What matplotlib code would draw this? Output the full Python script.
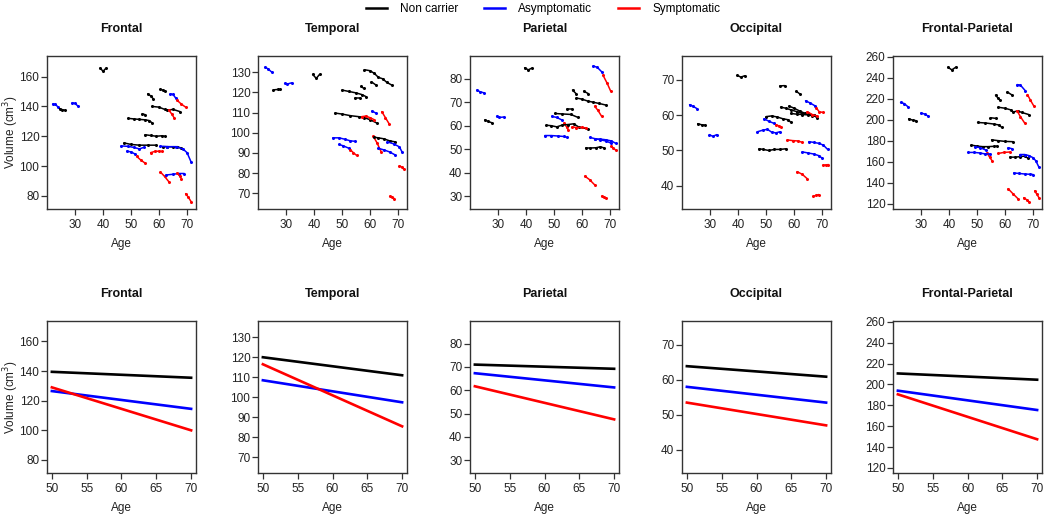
import matplotlib
matplotlib.use("Agg")
import matplotlib.pyplot as plt
from matplotlib.lines import Line2D

plt.rcParams['font.family'] = ['Liberation Sans', 'DejaVu Sans']

regions = ["Frontal", "Temporal", "Parietal", "Occipital", "Frontal-Parietal"]
group_names = ["Non carrier", "Asymptomatic", "Symptomatic"]
group_colors = {"N": "#000000", "A": "#0000ff", "S": "#ff0000"}
group_codes = ["N", "A", "S"]

# Individual trajectories: (group, ages, volumes)
frontal_traj = [
    ("A", [22, 23, 24], [141.6, 141.3, 139.5]),
    ("N", [24.5, 25.5, 26.5], [138.5, 137.8, 137.4]),
    ("A", [29, 30, 31], [142.5, 142, 140.3]),
    ("N", [39, 40, 41], [165.8, 163.5, 165.5]),
    ("N", [56, 57, 58], [148.5, 147, 145]),
    ("N", [60.5, 61.5, 62.3], [151.5, 150.8, 150]),
    ("N", [57.5, 60, 62, 63, 65, 67.5], [140, 139.5, 138, 137.5, 138, 136.5]),
    ("A", [64, 65, 66], [148.5, 148, 145.5]),
    ("S", [66.5, 68, 69.5], [144, 141.5, 139.5]),
    ("S", [63.5, 64.5, 65.5], [137.5, 135, 132]),
    ("N", [49, 51, 53, 55, 56.5, 57.5], [132, 131.6, 131.3, 131, 130.5, 129]),
    ("N", [54, 55], [135, 134.5]),
    ("N", [55, 57, 59, 61, 62], [121, 120.5, 120, 120.3, 120]),
    ("N", [47.5, 50, 53, 56, 59], [115.5, 114.5, 114, 114, 114]),
    ("A", [46.5, 49, 51, 53, 54.5], [113.5, 113.2, 112.5, 111.5, 112.5]),
    ("A", [48.5, 50, 51.5], [110, 109.5, 108]),
    ("S", [52, 53.5, 55], [106.5, 104, 102]),
    ("S", [57, 58.5, 60, 61], [109, 109.8, 110, 109.8]),
    ("N", [61.5, 63, 65, 66.5, 68], [113, 113, 112.8, 113, 112]),
    ("A", [60.5, 63, 66, 68.5, 70, 71.5], [113.3, 113, 113, 111.5, 109, 102.5]),
    ("S", [60.5, 62, 63.5], [96, 93, 89.5]),
    ("A", [62.5, 65, 67, 69], [94, 94.5, 95, 95]),
    ("S", [66.5, 67.5, 68], [95.5, 93, 91.5]),
    ("S", [69.5, 70.5, 71.5], [81.5, 79, 76]),
]

temporal_traj = [
    ("A", [22.5, 23.5, 25], [132.5, 131.8, 130]),
    ("N", [25.5, 27, 28], [121.3, 121.5, 121.5]),
    ("A", [29.5, 30.5, 32], [124.5, 124.2, 124.8]),
    ("N", [39.5, 40.8, 42], [129, 127, 129]),
    ("N", [58, 60, 61.5, 63, 64.5, 66, 68], [131.3, 130.8, 129.5, 127.5, 126.8, 125, 123.5]),
    ("N", [60.5, 62], [125.3, 123.8]),
    ("N", [56.8, 57.8], [123, 122]),
    ("N", [50, 52.5, 55, 57, 58.5], [121.2, 120.5, 119.8, 119, 118]),
    ("N", [54.7, 56.3], [117.4, 117.4]),
    ("N", [47.5, 50, 53, 56, 58, 60, 62.5], [109.8, 109.3, 108.5, 108, 107.5, 106.5, 104.8]),
    ("S", [57, 58.5, 60, 61.5], [108, 108.3, 107.5, 106.5]),
    ("A", [60.7, 62.2], [110.8, 109.7]),
    ("S", [64.2, 65.5, 66.8], [110.5, 107.5, 104.5]),
    ("A", [46.7, 49, 51, 53, 54.5], [97.5, 97.5, 96.8, 96, 95.8]),
    ("A", [49, 50.5, 52.5], [94.2, 93.5, 92.3]),
    ("S", [53, 54, 55.2], [91.5, 90.2, 88.8]),
    ("S", [61.2, 62.5, 64], [98.2, 95, 90.5]),
    ("N", [61.5, 63, 65, 67, 69], [97.8, 97.5, 97, 96, 95.5]),
    ("A", [66.2, 68.5, 70.5, 71.5], [95.5, 94.5, 93, 90.3]),
    ("A", [63, 65, 67, 69], [92.3, 91.5, 90.5, 89]),
    ("S", [70.5, 71.5, 72], [83.7, 82.8, 82]),
    ("S", [67, 68, 68.7], [68.5, 68, 67.3]),
]

parietal_traj = [
    ("A", [22.5, 23.5, 25], [75.2, 74.5, 74]),
    ("N", [25.3, 26.5, 27.7], [62.5, 61.8, 61.3]),
    ("A", [29.5, 30.5, 32], [64, 63.5, 63.7]),
    ("N", [39.5, 40.8, 42], [84.7, 83.8, 84.5]),
    ("A", [64, 65.5, 67], [85.5, 84.8, 83]),
    ("S", [67.5, 69, 70.2], [81.5, 78, 74.8]),
    ("N", [56.6, 58], [75.2, 73.5]),
    ("N", [60.6, 62.2], [74.7, 73.7]),
    ("N", [58, 60, 62, 64, 66, 68.5], [71.8, 71.3, 70.5, 70, 69.5, 68.8]),
    ("S", [64.5, 65.7, 67], [68.3, 66.5, 64]),
    ("N", [54.8, 56.5], [67, 67]),
    ("N", [50.3, 53, 56, 58.6], [65.2, 65, 64.8, 63.5]),
    ("A", [49.2, 51, 52.7], [64, 63.5, 62.5]),
    ("S", [53.5, 54.5, 55], [61, 59.5, 58.2]),
    ("N", [47.3, 49, 51, 53, 55, 57, 59, 62], [60.2, 60, 59.5, 60.3, 60.5, 60.8, 59.3, 58.7]),
    ("S", [56.5, 58, 60, 61.5], [59.5, 59.2, 59.3, 59]),
    ("A", [46.7, 49, 51.5, 53.5, 54.7], [55.8, 55.8, 55.6, 55.4, 55]),
    ("A", [62.8, 64.5, 66.5, 68.5, 70.5], [55, 54.5, 54, 53.5, 52.5]),
    ("A", [64.5, 66.5, 68.5, 70.5, 72], [54.3, 54.3, 54, 53.5, 52.5]),
    ("S", [70.5, 71.2, 72], [51.2, 50.5, 49.6]),
    ("N", [61.3, 63, 65, 66.5, 68], [50.5, 50.5, 50.6, 51, 50.5]),
    ("S", [61, 62.7, 64.5], [38.5, 37, 34.8]),
    ("S", [67, 67.8, 68.7], [30, 29.5, 29]),
]

occipital_traj = [
    ("A", [22.7, 24, 25.3], [63, 62.5, 61.9]),
    ("N", [25.6, 27, 28.2], [57.6, 57.3, 57.2]),
    ("A", [29.8, 31, 32.4], [54.5, 54, 54.5]),
    ("N", [39.8, 41, 42.4], [71.3, 70.8, 71.2]),
    ("N", [54.9, 56.6], [68.3, 68.4]),
    ("N", [60.8, 62.3], [66.8, 65.9]),
    ("A", [64.1, 65.7, 67.4], [64.1, 63.5, 62.7]),
    ("S", [68, 69, 70.2], [62, 61, 60.8]),
    ("N", [55.2, 57, 59, 61, 63, 65, 67, 68.2], [62.3, 62, 61.5, 61, 60.5, 60.5, 60, 59.3]),
    ("N", [58.2, 60, 62, 64, 66.5], [62.6, 62, 61.2, 60.5, 59.8]),
    ("N", [58.8, 61, 63, 65, 67], [60.5, 60.3, 60.2, 60.1, 60]),
    ("S", [64.7, 66.5, 68.2], [61, 60.2, 59.8]),
    ("N", [50, 52, 54, 56, 58, 58.8], [59.6, 59.8, 59.5, 59, 58.7, 58]),
    ("A", [49.3, 51, 52.8], [59, 58.3, 57.7]),
    ("S", [53.5, 54.5, 55.4], [57.3, 57, 56.6]),
    ("A", [46.9, 49, 50.5, 52, 53.5, 54.9], [55.3, 55.8, 56, 55.2, 55, 55.3]),
    ("S", [57.6, 59.5, 61.5, 62.9], [53, 52.8, 52.7, 52.3]),
    ("A", [65.3, 67, 69, 70.5, 72], [52.5, 52.3, 52, 51.5, 50.3]),
    ("A", [62.9, 65, 67, 69, 70], [49.6, 49.3, 49, 48.5, 47.8]),
    ("N", [47.5, 49, 51, 53, 55, 57.3], [50.5, 50.3, 50, 50.3, 50.3, 50.5]),
    ("S", [70.2, 71.3, 72.3], [45.8, 45.9, 46]),
    ("S", [61.1, 63, 64.7], [44, 43.2, 42]),
    ("S", [66.8, 68, 68.8], [37, 37.3, 37.5]),
]

fp_traj = [
    ("A", [22.7, 24, 25.3], [216.5, 215.5, 212.5]),
    ("N", [25.6, 27, 28.2], [201, 199.7, 199.2]),
    ("A", [30, 31.3, 32.5], [206.5, 205.5, 203.6]),
    ("N", [39.6, 41, 42.4], [250, 247.5, 250]),
    ("N", [56.6, 57.4, 58.2], [223.5, 221, 218.5]),
    ("N", [60.8, 62.5], [226.5, 223.6]),
    ("A", [64.3, 65.5, 67.3], [233.5, 233, 227.5]),
    ("S", [68, 69, 70.2], [224, 219, 213.5]),
    ("N", [57.6, 60, 62, 63, 64.5, 66, 68.5], [212, 211, 209.5, 207.5, 208.5, 207, 205]),
    ("S", [64.3, 65.5, 67], [208.5, 203, 197]),
    ("N", [54.8, 56.7], [202, 201.4]),
    ("N", [50.2, 53, 56, 58, 58.8], [197.5, 197, 196, 195, 192.8]),
    ("N", [55.2, 57.5, 60, 62.9], [181, 180.2, 179.5, 179.2]),
    ("N", [47.9, 50, 52, 54, 56, 57], [176, 175, 174.5, 174.5, 174.8, 175]),
    ("A", [49.3, 51.2, 53.1], [174.5, 173.5, 171.3]),
    ("S", [53.6, 54.5, 55.4], [168.5, 164.5, 161]),
    ("A", [46.9, 49, 51, 53, 54.8], [169, 169, 168.5, 167.5, 167.5]),
    ("S", [57.6, 59.5, 61.7], [168, 169, 169.4]),
    ("A", [61.1, 62.5], [173.5, 172.5]),
    ("N", [61.7, 63.5, 65.5, 67, 68.2], [164.5, 164.5, 165, 165.5, 163.5]),
    ("A", [65.3, 67, 68.5, 70, 71, 72], [167, 167, 166, 164, 161, 155.5]),
    ("A", [63.1, 65, 67, 69, 70], [149.5, 149, 148.5, 148.2, 148]),
    ("S", [61.1, 62.9, 64.7], [134.5, 129.5, 124.8]),
    ("S", [66.7, 67.7, 68.6], [126, 124, 122]),
    ("S", [70.6, 71.3, 72.1], [132.5, 129.5, 126]),
]

trajectories = [frontal_traj, temporal_traj, parietal_traj, occipital_traj, fp_traj]

# Fitted lines at age 50 and 70: [Non carrier, Asymptomatic, Symptomatic]
fit_ages = [50, 70]
fit_frontal = [[139.5, 135.5], [126.5, 114.5], [129.0, 100.0]]
fit_temporal = [[120.0, 111.0], [108.5, 97.5], [116.5, 85.5]]
fit_parietal = [[71.0, 69.2], [67.3, 61.2], [61.7, 47.5]]
fit_occipital = [[63.9, 60.9], [58.0, 53.5], [53.5, 47.0]]
fit_fp = [[210.5, 204.5], [194.0, 175.5], [190.5, 147.5]]
fits = [fit_frontal, fit_temporal, fit_parietal, fit_occipital, fit_fp]

ylims = [(71.2, 173.8), (62.2, 138.1), (24.5, 89.7), (33.4, 76.8), (115.2, 260.7)]
yticks = [list(range(80, 161, 20)), list(range(70, 131, 10)), list(range(30, 81, 10)),
          list(range(40, 71, 10)), list(range(120, 261, 20))]
top_xticks = [30, 40, 50, 60, 70]
bot_xticks = [50, 55, 60, 65, 70]

W, H = 1050, 521
fig = plt.figure(figsize=(W / 100, H / 100), dpi=100)

lefts = [47, 258, 470, 682, 893]
aw = 149
top_row = (56, 209)
bot_row = (321, 473)

axis_col = "#333333"

def style(ax, title):
    for sp in ax.spines.values():
        sp.set_color(axis_col)
        sp.set_linewidth(1.0)
    ax.tick_params(axis='both', direction='out', length=4, width=0.9, color=axis_col,
                   labelsize=8.5, labelcolor="#222222")
    ax.tick_params(axis='y', pad=1.5)
    ax.tick_params(axis='x', pad=3.5)
    ax.annotate(title, xy=(0.5, 1.0), xycoords='axes fraction', xytext=(0, 19.5),
                textcoords='offset points', ha='center', va='center',
                fontsize=9, fontweight='bold', color="#111111")
    ax.set_xlabel("Age", fontsize=8.5, color="#222222", labelpad=5)

def add_ylabel(ax):
    ax.annotate("Volume (cm$^3$)", xy=(0, 0.5), xycoords='axes fraction',
                xytext=(-(47 - 11) * 0.72, 0), textcoords='offset points',
                rotation=90, ha='center', va='center', fontsize=8.5, color="#222222")

for i, reg in enumerate(regions):
    # top
    t, b = top_row
    ax = fig.add_axes([lefts[i] / W, 1 - b / H, aw / W, (b - t) / H])
    for g, ages, vols in trajectories[i]:
        ax.plot(ages, vols, color=group_colors[g], lw=1.1, marker='o', ms=1.2,
                solid_capstyle='round')
    ax.set_xlim(20.0, 73.2)
    ax.set_ylim(*ylims[i])
    ax.set_xticks(top_xticks)
    ax.set_yticks(yticks[i])
    style(ax, reg)
    if i == 0:
        add_ylabel(ax)

    # bottom
    t, b = bot_row
    ax2 = fig.add_axes([lefts[i] / W, 1 - b / H, aw / W, (b - t) / H])
    for k, code in enumerate(group_codes):
        ax2.plot(fit_ages, fits[i][k], color=group_colors[code], lw=1.9)
    ax2.set_xlim(49.3, 70.7)
    ax2.set_ylim(*ylims[i])
    ax2.set_xticks(bot_xticks)
    ax2.set_yticks(yticks[i])
    style(ax2, reg)
    if i == 0:
        add_ylabel(ax2)

handles = [Line2D([0], [0], color=group_colors[c], lw=1.8) for c in group_codes]
fig.legend(handles, group_names, loc='center', bbox_to_anchor=(543 / W, 1 - 9 / H),
           ncol=3, frameon=False, fontsize=8.5, handlelength=1.8, columnspacing=2.2,
           handletextpad=1.1)

fig.savefig("out.png", dpi=100)
